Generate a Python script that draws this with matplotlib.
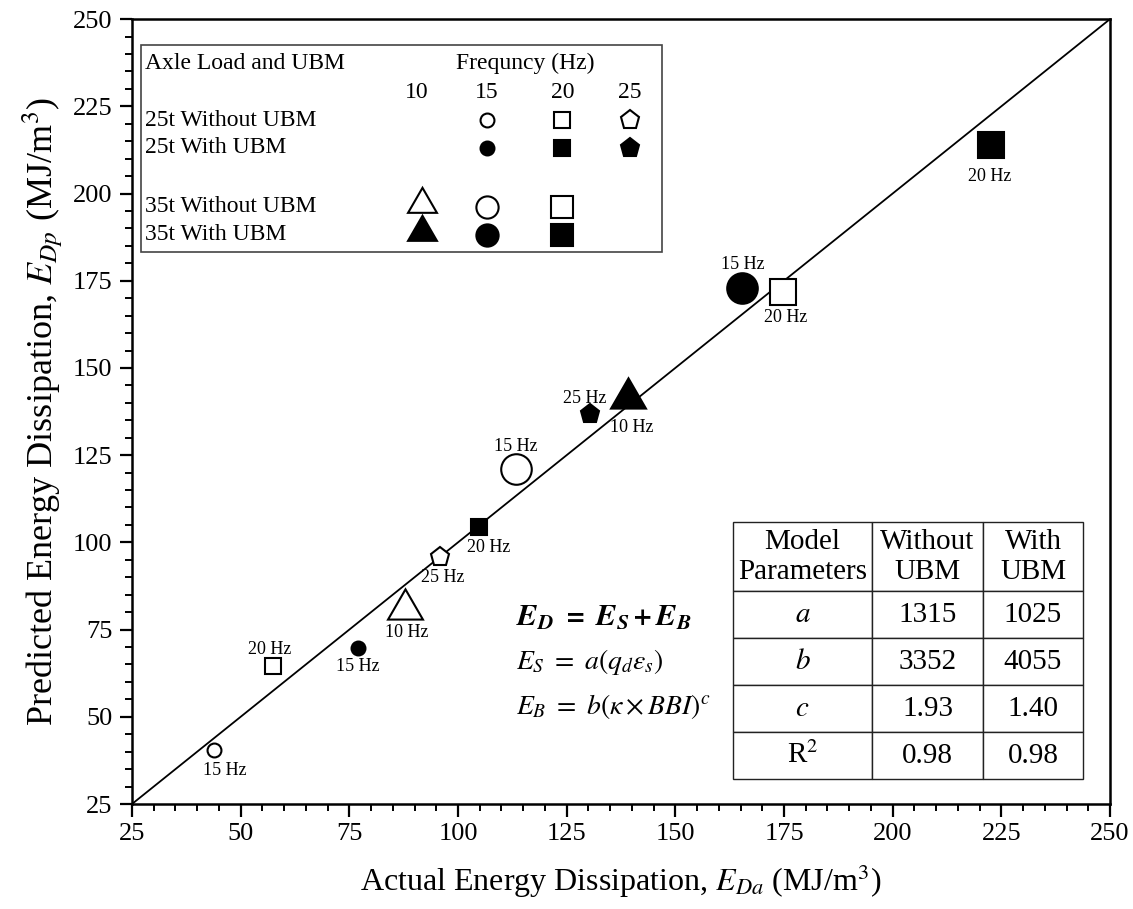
import numpy as np
import matplotlib
matplotlib.use("Agg")
import matplotlib.pyplot as plt
from matplotlib.patches import Rectangle

plt.rcParams['font.family'] = ['Liberation Serif', 'DejaVu Serif']
plt.rcParams['mathtext.fontset'] = 'stix'

# data: (actual, predicted) per frequency
w25_freq = [15, 20, 25]
w25_act = [43.9, 57.4, 95.9]
w25_pred = [40.5, 64.6, 95.8]

u25_freq = [15, 20, 25]
u25_act = [77.0, 104.8, 130.4]
u25_pred = [69.7, 104.4, 136.8]

w35_freq = [10, 15, 20]
w35_act = [87.8, 113.3, 174.8]
w35_pred = [81.0, 121.0, 171.7]

u35_freq = [10, 15, 20]
u35_act = [139.1, 165.3, 222.6]
u35_pred = [141.4, 172.9, 213.9]

params = ['$a$', '$b$', '$c$', 'R$^2$']
without_ubm = ['1315', '3352', '1.93', '0.98']
with_ubm = ['1025', '4055', '1.40', '0.98']

tri = (3, 0, 0)  # equilateral triangle
markers = {10: tri, 15: 'o', 20: 's', 25: 'p'}
small = {'o': 10, 's': 11, 'p': 14}
big = {'o': 22, 's': 19, tri: 29}

# label offsets in points (dx, dy)
offs = {
    ('w25', 15): (8, -15), ('w25', 20): (-2, 12), ('w25', 25): (2, -15),
    ('u25', 15): (0, -13), ('u25', 20): (7, -15), ('u25', 25): (-4, 11),
    ('w35', 10): (1, -17), ('w35', 15): (0, 16), ('w35', 20): (2, -18),
    ('u35', 10): (3, -21), ('u35', 15): (1, 17), ('u35', 20): (-1, -23),
}

fig = plt.figure(figsize=(11.33, 9.09), dpi=100)
ax = fig.add_axes([0.1165, 0.1155, 0.8632, 0.8635])

ax.plot([25, 250], [25, 250], color='black', lw=1.3, zorder=1)

series = [
    ('w25', w25_freq, w25_act, w25_pred, small, 'white'),
    ('u25', u25_freq, u25_act, u25_pred, small, 'black'),
    ('w35', w35_freq, w35_act, w35_pred, big, 'white'),
    ('u35', u35_freq, u35_act, u35_pred, big, 'black'),
]
for key, fr, xa, yp, sizes, fc in series:
    for f, x, y in zip(fr, xa, yp):
        m = markers[f]
        ax.plot(x, y, marker=m, ms=sizes[m], mfc=fc, mec='black', mew=1.5,
                ls='none', zorder=3)
        ax.annotate(f'{f} Hz', (x, y), xytext=offs[(key, f)],
                    textcoords='offset points', ha='center', va='center',
                    fontsize=13)

ax.set_xlim(25, 250)
ax.set_ylim(25, 250)
ax.set_xticks(np.arange(25, 251, 25))
ax.set_yticks(np.arange(25, 251, 25))
ax.set_xticks(np.arange(25, 251, 5), minor=True)
ax.set_yticks(np.arange(25, 251, 5), minor=True)
ax.tick_params(which='major', direction='out', length=9, width=1.6,
               labelsize=19, pad=5)
ax.tick_params(which='minor', direction='out', length=5, width=1.4)
for s in ax.spines.values():
    s.set_linewidth(1.8)

ax.set_xlabel('Actual Energy Dissipation, $E_{Da}$ (MJ/m$^3$)', fontsize=23,
              labelpad=12)
ax.set_ylabel('Predicted Energy Dissipation, $E_{Dp}$ (MJ/m$^3$)', fontsize=26,
              labelpad=6)

# legend box
tr = ax.transAxes
ax.add_patch(Rectangle((0.0092, 0.703), 0.533, 0.264, transform=tr,
                       fill=False, ec='#444444', lw=1.2, zorder=4))
ax.text(0.0133, 0.944, 'Axle Load and UBM', transform=tr, fontsize=17,
        va='center')
ax.text(0.402, 0.944, 'Frequncy (Hz)', transform=tr, fontsize=17,
        va='center', ha='center')
colx = {10: 0.291, 15: 0.363, 20: 0.440, 25: 0.509}
for f, cx in colx.items():
    ax.text(cx, 0.907, str(f), transform=tr, fontsize=17, va='center',
            ha='center')
rows = [
    ('25t Without UBM', 0.871, w25_freq, 'white', {'o': 10, 's': 11, 'p': 14}),
    ('25t With UBM', 0.836, u25_freq, 'black', {'o': 10, 's': 11, 'p': 14}),
    ('35t Without UBM', 0.761, w35_freq, 'white', {'o': 16, 's': 16, tri: 24}),
    ('35t With UBM', 0.725, u35_freq, 'black', {'o': 16, 's': 16, tri: 24}),
]
for name, ry, fr, fc, sizes in rows:
    ax.text(0.0133, ry, name, transform=tr, fontsize=17, va='center')
    for f in fr:
        m = markers[f]
        ax.plot(colx[f] + (0.006 if m == tri else 0),
                ry + (0.004 if m == tri else 0), marker=m,
                ms=sizes[m], mfc=fc, mec='black', mew=1.5, transform=tr,
                clip_on=False, zorder=5)

# equations
ax.text(0.393, 0.238, r'$\mathbfit{E_D\ =\ E_S + E_B}$', transform=tr,
        fontsize=22, va='center')
ax.text(0.393, 0.181, r'$E_S\ =\ a(q_d\varepsilon_s)$', transform=tr,
        fontsize=20, va='center')
ax.text(0.393, 0.124, r'$E_B\ =\ b(\kappa \times BBI)^c$', transform=tr,
        fontsize=20, va='center')

# parameter table
cells = [['Model\nParameters', 'Without\nUBM', 'With\nUBM']]
for p, a, b in zip(params, without_ubm, with_ubm):
    cells.append([p, a, b])
tab = ax.table(cellText=cells, cellLoc='center',
               colWidths=[0.397, 0.317, 0.286],
               bbox=[0.6145, 0.0318, 0.358, 0.327])
tab.auto_set_font_size(False)
tab.set_fontsize(21)
for (r, c), cell in tab.get_celld().items():
    cell.set_height(69 if r == 0 else 47)
    cell.set_linewidth(1.0)
    cell.set_edgecolor('#222222')
    cell.PAD = 0.02
tab.set_zorder(4)

fig.savefig('out.png', dpi=100)
